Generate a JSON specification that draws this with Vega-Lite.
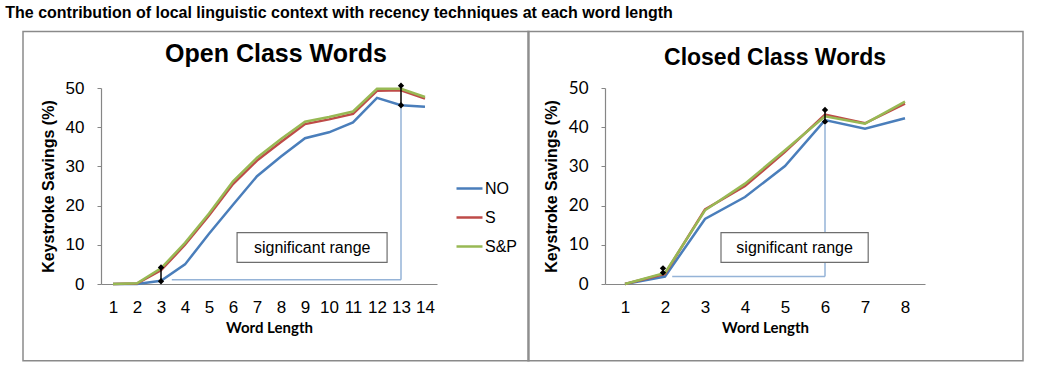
{
  "$schema": "https://vega.github.io/schema/vega-lite/v6.json",
  "background": "white",
  "padding": {"left": 5, "top": 4, "right": 5, "bottom": 5},
  "title": {"text": "The contribution of local linguistic context with recency techniques at each word length", "anchor": "start", "font": "Liberation Sans", "fontSize": 16, "fontWeight": "bold", "color": "#000000", "dx": -17, "offset": 10},
  "spacing": -3,
  "datasets": {
    "open": [
      {"len": 1, "type": "NO", "ks": 0}, {"len": 2, "type": "NO", "ks": 0}, {"len": 3, "type": "NO", "ks": 0.8},
      {"len": 4, "type": "NO", "ks": 5.0}, {"len": 5, "type": "NO", "ks": 12.8}, {"len": 6, "type": "NO", "ks": 20.2},
      {"len": 7, "type": "NO", "ks": 27.5}, {"len": 8, "type": "NO", "ks": 32.5}, {"len": 9, "type": "NO", "ks": 37.2},
      {"len": 10, "type": "NO", "ks": 38.7}, {"len": 11, "type": "NO", "ks": 41.2}, {"len": 12, "type": "NO", "ks": 47.5},
      {"len": 13, "type": "NO", "ks": 45.6}, {"len": 14, "type": "NO", "ks": 45.2},
      {"len": 1, "type": "S", "ks": 0}, {"len": 2, "type": "S", "ks": 0.1}, {"len": 3, "type": "S", "ks": 3.5},
      {"len": 4, "type": "S", "ks": 10.0}, {"len": 5, "type": "S", "ks": 17.5}, {"len": 6, "type": "S", "ks": 25.5},
      {"len": 7, "type": "S", "ks": 31.5}, {"len": 8, "type": "S", "ks": 36.2}, {"len": 9, "type": "S", "ks": 40.8},
      {"len": 10, "type": "S", "ks": 42.0}, {"len": 11, "type": "S", "ks": 43.4}, {"len": 12, "type": "S", "ks": 49.3},
      {"len": 13, "type": "S", "ks": 49.4}, {"len": 14, "type": "S", "ks": 47.3},
      {"len": 1, "type": "S&P", "ks": 0}, {"len": 2, "type": "S&P", "ks": 0.2}, {"len": 3, "type": "S&P", "ks": 4.0},
      {"len": 4, "type": "S&P", "ks": 10.5}, {"len": 5, "type": "S&P", "ks": 18.0}, {"len": 6, "type": "S&P", "ks": 26.2},
      {"len": 7, "type": "S&P", "ks": 32.2}, {"len": 8, "type": "S&P", "ks": 37.0}, {"len": 9, "type": "S&P", "ks": 41.4},
      {"len": 10, "type": "S&P", "ks": 42.6}, {"len": 11, "type": "S&P", "ks": 44.0}, {"len": 12, "type": "S&P", "ks": 49.8},
      {"len": 13, "type": "S&P", "ks": 49.8}, {"len": 14, "type": "S&P", "ks": 47.7}
    ],
    "closed": [
      {"len": 1, "type": "NO", "ks": 0}, {"len": 2, "type": "NO", "ks": 1.9}, {"len": 3, "type": "NO", "ks": 16.6},
      {"len": 4, "type": "NO", "ks": 22.2}, {"len": 5, "type": "NO", "ks": 30.1}, {"len": 6, "type": "NO", "ks": 41.8},
      {"len": 7, "type": "NO", "ks": 39.6}, {"len": 8, "type": "NO", "ks": 42.3},
      {"len": 1, "type": "S", "ks": 0}, {"len": 2, "type": "S", "ks": 2.6}, {"len": 3, "type": "S", "ks": 19.0},
      {"len": 4, "type": "S", "ks": 25.0}, {"len": 5, "type": "S", "ks": 33.7}, {"len": 6, "type": "S", "ks": 43.2},
      {"len": 7, "type": "S", "ks": 41.0}, {"len": 8, "type": "S", "ks": 46.0},
      {"len": 1, "type": "S&P", "ks": 0}, {"len": 2, "type": "S&P", "ks": 2.8}, {"len": 3, "type": "S&P", "ks": 18.8},
      {"len": 4, "type": "S&P", "ks": 25.6}, {"len": 5, "type": "S&P", "ks": 34.1}, {"len": 6, "type": "S&P", "ks": 42.8},
      {"len": 7, "type": "S&P", "ks": 40.9}, {"len": 8, "type": "S&P", "ks": 46.5}
    ],
    "openFrame": [{"x1": -2.75, "x2": 18.33, "y1": 64.4, "y2": -19.6}],
    "closedFrame": [{"x1": -1.425, "x2": 10.95, "y1": 64.4, "y2": -19.6}],
    "openBracket": [
      {"x1": 3.45, "x2": 13, "y1": 1.1, "y2": 1.1},
      {"x1": 13, "x2": 13, "y1": 1.1, "y2": 45.6}
    ],
    "closedBracket": [
      {"x1": 2.18, "x2": 6, "y1": 1.9, "y2": 1.9},
      {"x1": 6, "x2": 6, "y1": 1.9, "y2": 40.6}
    ],
    "openSig": [
      {"len": 3, "lo": 0.7, "hi": 4.2},
      {"len": 13, "lo": 45.6, "hi": 50.6}
    ],
    "closedSig": [
      {"len": 1.95, "lo": 2.9, "hi": 4.0},
      {"len": 6, "lo": 41.4, "hi": 44.4}
    ],
    "openBox": [{"x1": 6.17, "x2": 12.42, "y1": 5.5, "y2": 13.1, "tx": 9.3, "ty": 9.3, "label": "significant range"}],
    "closedBox": [{"x1": 3.4, "x2": 7.08, "y1": 5.5, "y2": 13.1, "tx": 5.24, "ty": 9.3, "label": "significant range"}]
  },
  "hconcat": [
    {
      "width": 336,
      "height": 196,
      "title": {"text": "Open Class Words", "font": "Liberation Sans", "fontSize": 25, "fontWeight": "bold", "color": "#000000", "anchor": "middle", "baseline": "alphabetic", "offset": -56, "dx": 7},
      "layer": [
        {
          "data": {"name": "open"},
          "mark": {"type": "line", "strokeWidth": 2.5},
          "encoding": {
            "x": {"field": "len", "type": "quantitative", "scale": {"domain": [0.5, 14.5], "nice": false, "zero": false},
              "axis": {"values": [1,2,3,4,5,6,7,8,9,10,11,12,13,14], "tickCount": 30, "format": "d", "ticks": false, "labelOverlap": false, "labelFlush": false, "labelFontSize": 17, "labelPadding": 15, "title": "Word Length", "titleFont": "Lato", "titleFontSize": 15, "titleFontWeight": "bold", "titlePadding": 5}},
            "y": {"field": "ks", "type": "quantitative", "scale": {"domain": [0, 50], "nice": false},
              "axis": {"values": [0,10,20,30,40,50], "tickCount": 20, "tickSize": 4, "labelOverlap": false, "labelFlush": false, "labelFontSize": 17, "labelPadding": 13, "title": "Keystroke Savings (%)", "titleFontSize": 16, "titleFontWeight": "bold", "titlePadding": 9}},
            "color": {"field": "type", "type": "nominal", "scale": {"domain": ["NO", "S", "S&P"], "range": ["#4a7ebb", "#be4b48", "#98b954"]},
              "legend": {"orient": "none", "legendX": 354, "legendY": 86, "title": null, "symbolType": "stroke", "symbolSize": 676, "symbolStrokeWidth": 2.5, "labelFontSize": 16, "labelOffset": 1, "rowPadding": 6, "labelColor": "#000000", "labelFont": "Liberation Sans"}}
          }
        },
        {
          "data": {"name": "openFrame"},
          "mark": {"type": "rect", "filled": false, "stroke": "#8a8a8a", "strokeWidth": 1.5},
          "encoding": {"x": {"field": "x1", "type": "quantitative"}, "x2": {"field": "x2"}, "y": {"field": "y1", "type": "quantitative"}, "y2": {"field": "y2"}}
        },
        {
          "data": {"name": "openBracket"},
          "mark": {"type": "rule", "color": "#95b3d7", "strokeWidth": 1.5},
          "encoding": {"x": {"field": "x1", "type": "quantitative"}, "x2": {"field": "x2"}, "y": {"field": "y1", "type": "quantitative"}, "y2": {"field": "y2"}}
        },
        {
          "data": {"name": "openSig"},
          "mark": {"type": "rule", "color": "#000000", "strokeWidth": 1.5},
          "encoding": {"x": {"field": "len", "type": "quantitative"}, "y": {"field": "lo", "type": "quantitative"}, "y2": {"field": "hi"}}
        },
        {
          "data": {"name": "openSig"},
          "mark": {"type": "point", "shape": "diamond", "filled": true, "color": "#000000", "size": 40, "opacity": 1},
          "encoding": {"x": {"field": "len", "type": "quantitative"}, "y": {"field": "lo", "type": "quantitative"}}
        },
        {
          "data": {"name": "openSig"},
          "mark": {"type": "point", "shape": "diamond", "filled": true, "color": "#000000", "size": 40, "opacity": 1},
          "encoding": {"x": {"field": "len", "type": "quantitative"}, "y": {"field": "hi", "type": "quantitative"}}
        },
        {
          "data": {"name": "openBox"},
          "mark": {"type": "rect", "fill": "#ffffff", "stroke": "#6e6e6e", "strokeWidth": 1.2},
          "encoding": {"x": {"field": "x1", "type": "quantitative"}, "x2": {"field": "x2"}, "y": {"field": "y1", "type": "quantitative"}, "y2": {"field": "y2"}}
        },
        {
          "data": {"name": "openBox"},
          "mark": {"type": "text", "fontSize": 16, "font": "Liberation Sans", "color": "#000000", "align": "center", "baseline": "middle"},
          "encoding": {"x": {"field": "tx", "type": "quantitative"}, "y": {"field": "ty", "type": "quantitative"}, "text": {"field": "label"}}
        }
      ]
    },
    {
      "width": 320,
      "height": 196,
      "title": {"text": "Closed Class Words", "font": "Liberation Sans", "fontSize": 23, "fontWeight": "bold", "color": "#000000", "anchor": "middle", "baseline": "alphabetic", "offset": -57, "dx": 10},
      "layer": [
        {
          "data": {"name": "closed"},
          "mark": {"type": "line", "strokeWidth": 2.5},
          "encoding": {
            "x": {"field": "len", "type": "quantitative", "scale": {"domain": [0.5, 8.5], "nice": false, "zero": false},
              "axis": {"values": [1,2,3,4,5,6,7,8], "tickCount": 20, "format": "d", "ticks": false, "labelOverlap": false, "labelFlush": false, "labelFontSize": 17, "labelPadding": 15, "title": "Word Length", "titleFont": "Lato", "titleFontSize": 15, "titleFontWeight": "bold", "titlePadding": 5}},
            "y": {"field": "ks", "type": "quantitative", "scale": {"domain": [0, 50], "nice": false},
              "axis": {"values": [0,10,20,30,40,50], "tickCount": 20, "tickSize": 4, "labelOverlap": false, "labelFlush": false, "labelFont": "Lato", "labelFontSize": 17, "labelPadding": 13, "title": "Keystroke Savings (%)", "titleFontSize": 16, "titleFontWeight": "bold", "titlePadding": 9}},
            "color": {"field": "type", "type": "nominal", "scale": {"domain": ["NO", "S", "S&P"], "range": ["#4a7ebb", "#be4b48", "#98b954"]},
              "legend": {"orient": "none", "legendX": 341, "legendY": 80, "title": null, "symbolType": "stroke", "symbolSize": 676, "symbolStrokeWidth": 2.5, "labelFontSize": 16, "labelOffset": 1, "rowPadding": 6, "labelColor": "#000000", "labelFont": "Liberation Sans"}}
          }
        },
        {
          "data": {"name": "closedFrame"},
          "mark": {"type": "rect", "filled": false, "stroke": "#8a8a8a", "strokeWidth": 1.5},
          "encoding": {"x": {"field": "x1", "type": "quantitative"}, "x2": {"field": "x2"}, "y": {"field": "y1", "type": "quantitative"}, "y2": {"field": "y2"}}
        },
        {
          "data": {"name": "closedBracket"},
          "mark": {"type": "rule", "color": "#95b3d7", "strokeWidth": 1.5},
          "encoding": {"x": {"field": "x1", "type": "quantitative"}, "x2": {"field": "x2"}, "y": {"field": "y1", "type": "quantitative"}, "y2": {"field": "y2"}}
        },
        {
          "data": {"name": "closedSig"},
          "mark": {"type": "rule", "color": "#000000", "strokeWidth": 1.5},
          "encoding": {"x": {"field": "len", "type": "quantitative"}, "y": {"field": "lo", "type": "quantitative"}, "y2": {"field": "hi"}}
        },
        {
          "data": {"name": "closedSig"},
          "mark": {"type": "point", "shape": "diamond", "filled": true, "color": "#000000", "size": 40, "opacity": 1},
          "encoding": {"x": {"field": "len", "type": "quantitative"}, "y": {"field": "lo", "type": "quantitative"}}
        },
        {
          "data": {"name": "closedSig"},
          "mark": {"type": "point", "shape": "diamond", "filled": true, "color": "#000000", "size": 40, "opacity": 1},
          "encoding": {"x": {"field": "len", "type": "quantitative"}, "y": {"field": "hi", "type": "quantitative"}}
        },
        {
          "data": {"name": "closedBox"},
          "mark": {"type": "rect", "fill": "#ffffff", "stroke": "#6e6e6e", "strokeWidth": 1.2},
          "encoding": {"x": {"field": "x1", "type": "quantitative"}, "x2": {"field": "x2"}, "y": {"field": "y1", "type": "quantitative"}, "y2": {"field": "y2"}}
        },
        {
          "data": {"name": "closedBox"},
          "mark": {"type": "text", "fontSize": 16, "font": "Liberation Sans", "color": "#000000", "align": "center", "baseline": "middle"},
          "encoding": {"x": {"field": "tx", "type": "quantitative"}, "y": {"field": "ty", "type": "quantitative"}, "text": {"field": "label"}}
        }
      ]
    }
  ],
  "config": {
    "view": {"stroke": null},
    "font": "Liberation Sans",
    "axis": {"grid": false, "labelOverlap": false, "domainColor": "#868686", "domainWidth": 1.2, "tickColor": "#868686", "labelColor": "#000000", "titleColor": "#000000", "labelFont": "Liberation Sans", "titleFont": "Liberation Sans"}
  }
}
